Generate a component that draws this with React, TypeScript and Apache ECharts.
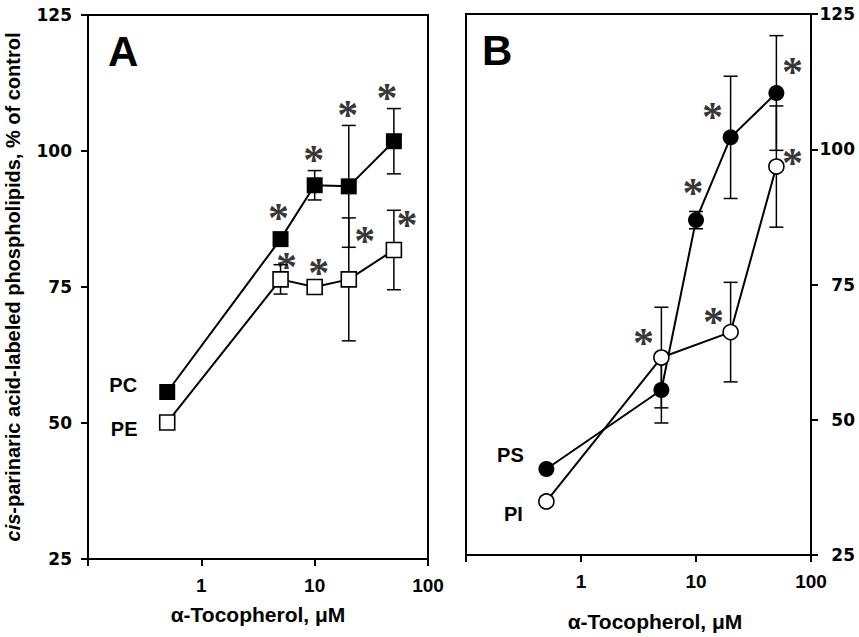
import React, { useEffect, useRef } from "react";
import * as echarts from "echarts";

// ---- Data ----
// Panel A
const pcDoses = [0.5, 5, 10, 20, 50];
const pcMean = [55.7, 83.8, 93.7, 93.5, 101.8];
const pcErr = [0, 0, 2.7, 11.2, 6.0];
const pcSig = [false, true, true, true, true];

const peDoses = [0.5, 5, 10, 20, 50];
const peMean = [50.1, 76.4, 75.0, 76.4, 81.8];
const peErr = [0, 2.7, 0, 11.3, 7.3];
const peSig = [false, true, true, true, true];

// Panel B
const psDoses = [0.5, 5, 10, 20, 50];
const psMean = [40.9, 55.5, 86.9, 102.2, 110.4];
const psErr = [0, 6.1, 1.6, 11.3, 10.6];
const psSig = [false, false, true, true, true];

const piDoses = [0.5, 5, 20, 50];
const piMean = [34.9, 61.5, 66.2, 96.8];
const piErr = [0, 9.3, 9.2, 11.2];
const piSig = [false, true, true, true];

const yTicks = [25, 50, 75, 100, 125];

// ---- Styles (pixel offsets of annotations from their point) ----
const pcStarOff = [null, [-2, -28], [-1, -32], [-1, -78], [-7, -50]];
const peStarOff = [null, [6, -19], [4, -21], [16, -45], [13, -32]];
const psStarOff = [null, null, [-3, -34], [-18, -27], [16, -28]];
const piStarOff = [null, [-18, -22], [-17, -17], [16, -11]];

const SANS = "Liberation Sans";
const TICKFONT = "DejaVu Sans";
const STARFONT = "Liberation Serif";
const STAR_SIZE = 42;
const STAR_SHIFT = 7;

function lineSeries(gi: number, xs: number[], ys: number[], symbol: string, filled: boolean, size: number, tag: string, tagOff: number[]) {
  return {
    type: "line",
    xAxisIndex: gi,
    yAxisIndex: gi,
    data: xs.map((x, i) =>
      i === 0
        ? {
            value: [x, ys[i]],
            label: {
              show: true,
              formatter: tag,
              position: "inside",
              offset: tagOff,
              color: "#000",
              fontFamily: SANS,
              fontWeight: "bold",
              fontSize: 20,
            },
          }
        : [x, ys[i]]
    ),
    symbol,
    symbolSize: size,
    showSymbol: true,
    itemStyle: { color: filled ? "#000" : "#fff", borderColor: "#000", borderWidth: filled ? 0 : 1.6 },
    lineStyle: { color: "#000", width: 2 },
    z: 4,
    silent: true,
  };
}

function errSeries(gi: number, xs: number[], ys: number[], es: number[]) {
  return {
    type: "custom",
    xAxisIndex: gi,
    yAxisIndex: gi,
    data: xs.map((x, i) => [x, ys[i] - es[i], ys[i] + es[i]]).filter((_, i) => es[i] > 0),
    encode: { x: 0, y: [1, 2] },
    z: 2,
    silent: true,
    renderItem: (params: any, api: any) => {
      const x = api.value(0);
      const top = api.coord([x, api.value(2)]);
      const bot = api.coord([x, api.value(1)]);
      const w = 7;
      const style = { stroke: "#000", lineWidth: 1.5 };
      return {
        type: "group",
        children: [
          { type: "line", shape: { x1: top[0], y1: top[1], x2: bot[0], y2: bot[1] }, style },
          { type: "line", shape: { x1: top[0] - w, y1: top[1], x2: top[0] + w, y2: top[1] }, style },
          { type: "line", shape: { x1: bot[0] - w, y1: bot[1], x2: bot[0] + w, y2: bot[1] }, style },
        ],
      };
    },
  };
}

function starSeries(gi: number, xs: number[], ys: number[], sig: boolean[], offs: any[]) {
  return {
    type: "scatter",
    xAxisIndex: gi,
    yAxisIndex: gi,
    symbolSize: 1,
    itemStyle: { color: "rgba(0,0,0,0)" },
    silent: true,
    z: 6,
    data: xs
      .map((x, i) => ({ i, x }))
      .filter((d) => sig[d.i])
      .map((d) => ({
        value: [d.x, ys[d.i]],
        label: { offset: [offs[d.i][0], offs[d.i][1] + STAR_SHIFT] },
      })),
    label: {
      show: true,
      formatter: "*",
      position: "inside",
      color: "#000",
      fontFamily: STARFONT,
      fontWeight: "bold",
      fontSize: STAR_SIZE,
    },
  };
}

function xAxis(gi: number, nameGap: number, namePad: number[]) {
  return {
    type: "log",
    logBase: 10,
    gridIndex: gi,
    min: 0.1,
    max: 100,
    name: "\u03b1-Tocopherol, \u03bcM",
    nameLocation: "middle",
    nameGap,
    nameTextStyle: { fontFamily: SANS, fontWeight: "bold", fontSize: 21, color: "#000", padding: namePad },
    axisLine: { show: true, lineStyle: { color: "#000", width: 2 } },
    axisTick: { show: true, length: 7, lineStyle: { color: "#000", width: 2 } },
    minorTick: { show: false },
    splitLine: { show: false },
    axisLabel: {
      margin: 17,
      color: "#000",
      fontFamily: SANS,
      fontWeight: "bold",
      fontSize: 19,
      formatter: (v: number) => (v >= 0.5 ? String(Math.round(v)) : ""),
    },
  };
}

function yAxis(gi: number, right: boolean) {
  return {
    type: "value",
    gridIndex: gi,
    position: right ? "right" : "left",
    min: yTicks[0],
    max: yTicks[yTicks.length - 1],
    interval: 25,
    name: right ? "" : "{i|cis}-parinaric acid-labeled phospholipids, % of control",
    nameLocation: "middle",
    nameGap: 65,
    nameRotate: 90,
    nameTextStyle: {
      fontFamily: SANS,
      fontWeight: "bold",
      fontSize: 20,
      color: "#000",
      rich: { i: { fontFamily: SANS, fontWeight: "bold", fontStyle: "italic", fontSize: 20, color: "#000" } },
    },
    axisLine: { show: true, lineStyle: { color: "#000", width: 2 } },
    axisTick: { show: true, length: 7, lineStyle: { color: "#000", width: 2 } },
    splitLine: { show: false },
    axisLabel: {
      margin: right ? 44 : 16,
      align: "right",
      color: "#000",
      fontFamily: TICKFONT,
      fontWeight: "bold",
      fontSize: 17,
    },
  };
}

export default function App() {
  const ref = useRef<HTMLDivElement>(null);
  useEffect(() => {
    if (!ref.current) return;
    const chart = echarts.init(ref.current, undefined, { renderer: "svg" });
    const option: any = {
      animation: false,
      backgroundColor: "#fff",
      grid: [
        { left: 88, top: 15, width: 340, height: 544, show: true, borderColor: "#000", borderWidth: 2 },
        { left: 466, top: 14, width: 345, height: 544, show: true, borderColor: "#000", borderWidth: 2 },
      ],
      xAxis: [xAxis(0, 45, [0, 0, 0, 0]), xAxis(1, 56, [0, 0, 0, 33])],
      yAxis: [yAxis(0, false), yAxis(1, true)],
      graphic: [
        {
          type: "text",
          left: 108,
          top: 30,
          style: { text: "A", font: "bold 42px 'Liberation Sans', Arial, sans-serif", fill: "#000" },
        },
        {
          type: "text",
          left: 482,
          top: 29,
          style: { text: "B", font: "bold 42px 'Liberation Sans', Arial, sans-serif", fill: "#000" },
        },
      ],
      series: [
        errSeries(0, pcDoses, pcMean, pcErr),
        errSeries(0, peDoses, peMean, peErr),
        lineSeries(0, pcDoses, pcMean, "rect", true, 16, "PC", [-44, -7]),
        lineSeries(0, peDoses, peMean, "rect", false, 15, "PE", [-43, 7]),
        starSeries(0, pcDoses, pcMean, pcSig, pcStarOff),
        starSeries(0, peDoses, peMean, peSig, peStarOff),
        errSeries(1, psDoses, psMean, psErr),
        errSeries(1, piDoses, piMean, piErr),
        lineSeries(1, psDoses, psMean, "circle", true, 16, "PS", [-36, -14]),
        lineSeries(1, piDoses, piMean, "circle", false, 15, "PI", [-33, 13]),
        starSeries(1, psDoses, psMean, psSig, psStarOff),
        starSeries(1, piDoses, piMean, piSig, piStarOff),
      ],
    };
    chart.setOption(option);
    return () => chart.dispose();
  }, []);
  return (
    <div
      ref={ref}
      style={{ position: "absolute", left: 0, top: 0, width: 859, height: 637, background: "#fff" }}
    />
  );
}
